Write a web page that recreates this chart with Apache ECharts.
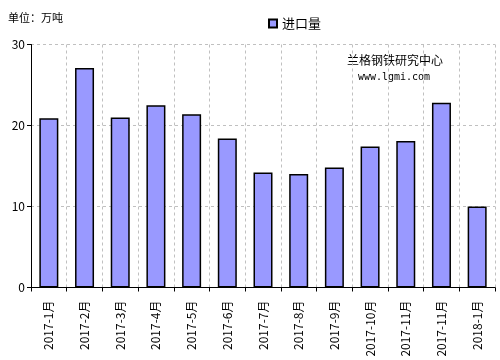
<!DOCTYPE html>
<html><head><meta charset="utf-8">
<script src="https://cdn.jsdelivr.net/npm/echarts@6/dist/echarts.min.js"></script>
<style>html,body{margin:0;padding:0;background:#fff}#c{width:500px;height:360px}</style>
</head><body><div id="c"></div>
<script>
var categories = ['2017-1月','2017-2月','2017-3月','2017-4月','2017-5月','2017-6月','2017-7月','2017-8月','2017-9月','2017-10月','2017-11月','2017-11月','2018-1月'];
var importVolume = [20.9, 27.1, 21.0, 22.5, 21.4, 18.4, 14.2, 14.0, 14.8, 17.4, 18.1, 22.8, 10.0];
var yTicks = [0, 10, 20, 30];
var seriesName = '进口量';

var chart = echarts.init(document.getElementById('c'), null, {renderer:'canvas'});
var font = '"Noto Sans CJK SC", "DejaVu Sans", sans-serif';
chart.setOption({
  animation: false,
  textStyle: {fontFamily: font},
  grid: {left: 31, right: 5, top: 44.5, bottom: 72.5, containLabel: false},
  legend: {
    data: [seriesName], left: 263, top: 12, itemWidth: 8, itemHeight: 8, itemGap: 4,
    icon: 'rect',
    textStyle: {fontSize: 13, color: '#000', fontFamily: font}
  },
  graphic: [
    {type:'text', x: 8, y: 18, style:{text:'单位：万吨', font:'11px ' + font, fill:'#000', textVerticalAlign:'middle'}},
    {type:'text', x: 395, y: 60, style:{text:'兰格钢铁研究中心', font:'12px ' + font, fill:'#000', textAlign:'center', textVerticalAlign:'middle'}},
    {type:'text', x: 394, y: 77, style:{text:'www.lgmi.com', font:'10px "DejaVu Sans Mono", monospace', fill:'#000', textAlign:'center', textVerticalAlign:'middle'}}
  ],
  xAxis: {
    type: 'category', data: categories, boundaryGap: true,
    axisLine: {lineStyle: {color: '#000', width: 1}},
    axisTick: {show: true, interval: 0, length: 4, lineStyle:{color:'#000'}},
    axisLabel: {interval: 0, rotate: 90, fontSize: 12, color: '#000', margin: 13, fontFamily: font},
    splitLine: {show: true, interval: 0, lineStyle: {color: '#c0c0c0', type: [3,3], width: 1}}
  },
  yAxis: {
    type: 'value', min: yTicks[0], max: yTicks[yTicks.length-1], interval: 10,
    axisLine: {show: true, lineStyle: {color: '#000', width: 1}},
    axisTick: {show: true, length: 4, lineStyle:{color:'#000'}},
    axisLabel: {fontSize: 12, color: '#000', margin: 6, fontFamily: font},
    splitLine: {show: true, lineStyle: {color: '#c0c0c0', type: [3,3], width: 1}}
  },
  series: [{
    name: seriesName, type: 'bar', data: importVolume, barWidth: 19,
    itemStyle: {color: '#9999ff', borderColor: '#000', borderWidth: 1.5}
  }]
});
</script></body></html>
